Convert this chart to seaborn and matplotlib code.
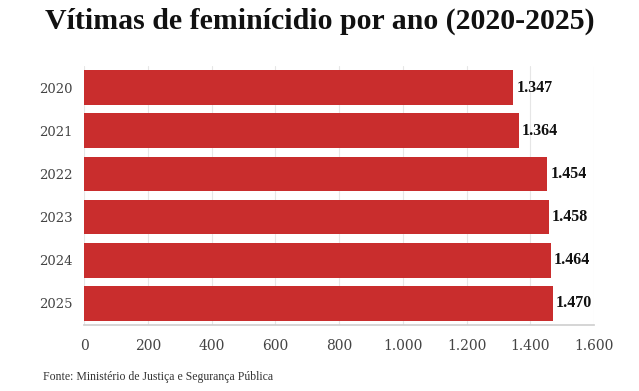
import pandas as pd
import matplotlib.pyplot as plt
import seaborn as sns

# Dados
anos = ["2020", "2021", "2022", "2023", "2024", "2025"]
vitimas = [1347, 1364, 1454, 1458, 1464, 1470]
xticks = [0, 200, 400, 600, 800, 1000, 1200, 1400, 1600]

df = pd.DataFrame({"Ano": anos, "Vitimas": vitimas})


def fmt_br(v):
    return f"{v:,.0f}".replace(",", ".")


sns.set_theme(style="white")
plt.rcParams["font.family"] = ["DejaVu Serif"]

fig = plt.figure(figsize=(6.39, 3.91), dpi=100)
ax = fig.add_axes([0.1315, 0.1688, 0.7981, 0.6624])

sns.barplot(data=df, x="Vitimas", y="Ano", color="#C92D2D", saturation=1,
            width=0.8, linewidth=0, ax=ax, zorder=3)

for i, v in enumerate(vitimas):
    ax.text(v + 10, i, fmt_br(v), va="center", ha="left", fontsize=11.5,
            color="#111111", fontweight="bold", family="Liberation Serif")

ax.set_xlim(0, 1600)
ax.set_ylim(5.5, -0.5)
ax.set_xticks(xticks)
ax.set_xticklabels([fmt_br(t) for t in xticks])
ax.xaxis.grid(True, color="#e6e6e6", linewidth=0.8, zorder=0)
ax.yaxis.grid(False)
for s in ["top", "right", "left"]:
    ax.spines[s].set_visible(False)
ax.spines["bottom"].set_color("#d0d0d0")
ax.tick_params(axis="x", length=4, color="#d0d0d0", labelsize=10,
               labelcolor="#444444", pad=6)
ax.tick_params(axis="y", length=0, labelsize=9.5, labelcolor="#444444", pad=8)
ax.set_xlabel("")
ax.set_ylabel("")

fig.text(0.5, 0.945, "Vítimas de feminícidio por ano (2020-2025)",
         ha="center", va="center", fontsize=21.5, fontweight="bold",
         color="#111111", family="Liberation Serif")
fig.text(0.067, 0.036, "Fonte: Ministério de Justiça e Segurança Pública",
         ha="left", va="center", fontsize=8.5, color="#333333",
         family="Liberation Serif")

fig.savefig("out.png", dpi=100)
